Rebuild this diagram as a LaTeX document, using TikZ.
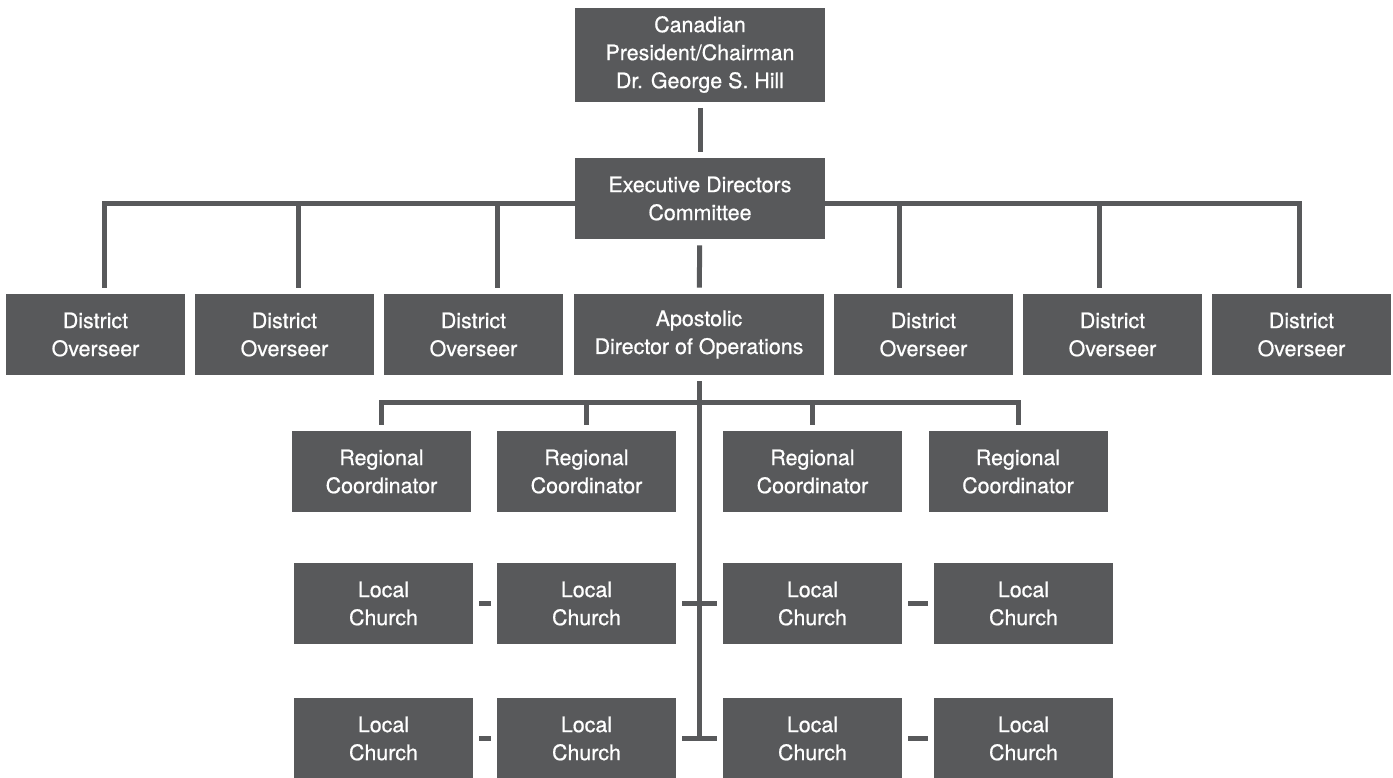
\documentclass[tikz,border=0pt]{standalone}
\usepackage{fontspec}
\setmainfont[UprightFeatures={FakeBold=0.7}]{TeX Gyre Heros}
\usetikzlibrary{positioning}
\definecolor{boxgray}{HTML}{58595B}

\begin{document}
\begin{tikzpicture}[x=0.5pt,y=-0.5pt]
	\tikzstyle{box}=[fill=boxgray,text=white,align=center,inner sep=0pt,
		minimum width=89.5pt,minimum height=40.5pt,font=\fontsize{10.7}{14}\selectfont]
	\tikzstyle{wide}=[box,minimum width=125pt]
	\tikzstyle{link}=[draw=boxgray,line width=2.5pt,shorten <=3pt,shorten >=3pt]

	\useasboundingbox (0,0) rectangle (1393,777);

	\node[wide,minimum height=47pt] (pres) at (700,54.5) {Canadian\\President/Chairman\\Dr. George S. Hill};
	\node[wide] (exec) at (700,198.5) {Executive Directors\\Committee};

	\node[box]  (d1)   at (95.5,334.5)   {District\\Overseer};
	\node[box]  (d2)   at (284.5,334.5)  {District\\Overseer};
	\node[box]  (d3)   at (473.5,334.5)  {District\\Overseer};
	\node[wide] (apos) at (699,334.5)    {Apostolic\\Director of Operations};
	\node[box]  (d5)   at (923.5,334.5)  {District\\Overseer};
	\node[box]  (d6)   at (1112.5,334.5) {District\\Overseer};
	\node[box]  (d7)   at (1301.5,334.5) {District\\Overseer};

	\node[box] (r1) at (381.5,471.5) {Regional\\Coordinator};
	\node[box] (r2) at (586.5,471.5) {Regional\\Coordinator};
	\node[box] (r3) at (812.5,471.5) {Regional\\Coordinator};
	\node[box] (r4) at (1018,471.5)  {Regional\\Coordinator};

	\node[box] (a1) at (383.5,603.5)  {Local\\Church};
	\node[box] (a2) at (586.5,603.5)  {Local\\Church};
	\node[box] (a3) at (812.5,603.5)  {Local\\Church};
	\node[box] (a4) at (1023.5,603.5) {Local\\Church};
	\node[box] (b1) at (383.5,738.5)  {Local\\Church};
	\node[box] (b2) at (586.5,738.5)  {Local\\Church};
	\node[box] (b3) at (812.5,738.5)  {Local\\Church};
	\node[box] (b4) at (1023.5,738.5) {Local\\Church};

	\coordinate (rbus) at (0,402);

	\draw[link] (pres) -- (exec);
	\draw[link] (exec) -- (apos);
	\foreach \d/\s in {d1/4.25,d2/6.75,d3/11.75}
		\draw[link,shorten <=0pt] ([yshift=-2.5pt]exec.west) -| ([xshift=\s pt]\d.north);
	\foreach \d/\s in {d5/-12.25,d6/-6.75,d7/-1.25}
		\draw[link,shorten <=0pt] ([yshift=-2.5pt]exec.east) -| ([xshift=\s pt]\d.north);

	\draw[link,shorten >=0pt] (apos) -- (apos |- b2);
	\draw[link] (r1) -- (r1 |- rbus) -- (r4 |- rbus) -- (r4);
	\foreach \r in {r2,r3}
		\draw[link,shorten <=0pt] (\r |- rbus) -- (\r);

	\foreach \row in {a,b} {
		\draw[link] (\row1) -- (\row2);
		\draw[link] (\row2) -- (\row3);
		\draw[link] (\row3) -- (\row4);
	}
\end{tikzpicture}
\end{document}
